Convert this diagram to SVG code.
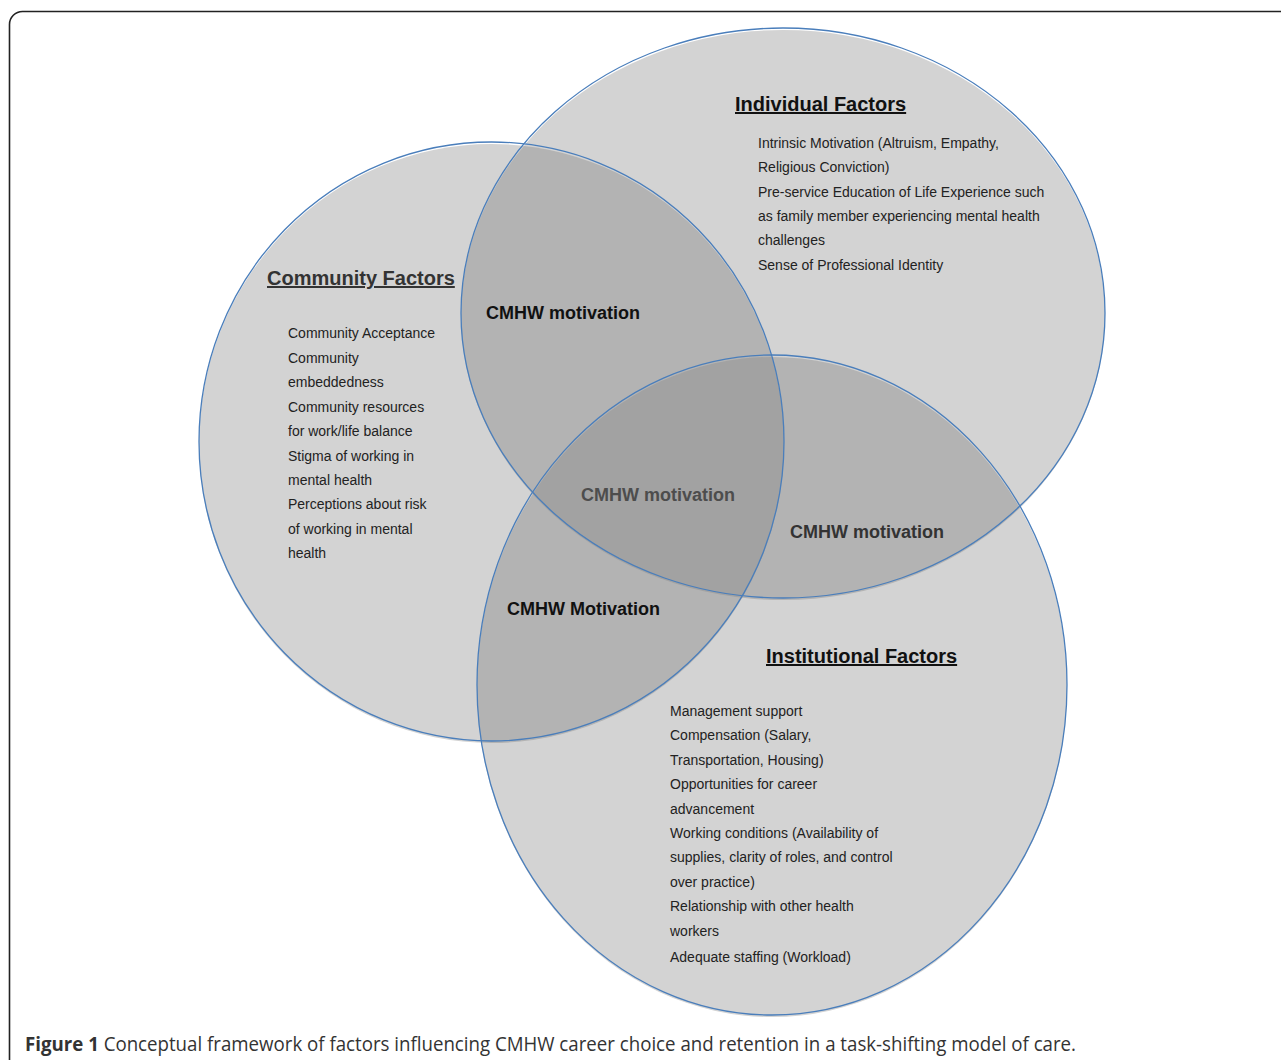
<svg xmlns="http://www.w3.org/2000/svg" width="1281" height="1060" viewBox="0 0 1281 1060">
<style>
.fill1{fill:#d3d3d3}
.fill2{fill:#b3b3b3}
.fill3{fill:#a2a2a2}
.outline{fill:none;stroke:#4a7ebb;stroke-width:1.3}
.title{font-family:"Liberation Sans",Arial,sans-serif;font-weight:bold;font-size:20px;text-decoration:underline}
.body{font-family:"Liberation Sans",Arial,sans-serif;font-size:14px;fill:#222}
.mot{font-family:"Liberation Sans",Arial,sans-serif;font-weight:bold;font-size:18px}
.cap{font-family:"Open Sans","Noto Sans",sans-serif;font-size:19.5px;fill:#333}
</style>
<defs>
<clipPath id="cInd"><ellipse cx="783" cy="315" rx="322" ry="285"/></clipPath>
<clipPath id="cCom"><ellipse cx="491.5" cy="443.5" rx="292.5" ry="299.5"/></clipPath>
<clipPath id="cIns"><ellipse cx="772" cy="687" rx="295" ry="330"/></clipPath>
</defs>
<rect x="9.5" y="11.5" width="1320" height="1100" rx="13" fill="#fff" stroke="#222" stroke-width="1.6"/>
<g id="fills">
<ellipse class="fill1" cx="783" cy="315" rx="322" ry="285"/>
<ellipse class="fill1" cx="491.5" cy="443.5" rx="292.5" ry="299.5"/>
<ellipse class="fill1" cx="772" cy="687" rx="295" ry="330"/>
<ellipse class="fill2" cx="491.5" cy="443.5" rx="292.5" ry="299.5" clip-path="url(#cInd)"/>
<ellipse class="fill2" cx="772" cy="687" rx="295" ry="330" clip-path="url(#cInd)"/>
<ellipse class="fill2" cx="772" cy="687" rx="295" ry="330" clip-path="url(#cCom)"/>
<g clip-path="url(#cInd)"><ellipse class="fill3" cx="772" cy="687" rx="295" ry="330" clip-path="url(#cCom)"/></g>
</g>
<g id="individual">
<ellipse class="outline" cx="783" cy="313" rx="322" ry="285"/>
<text class="title" x="735" y="111" fill="#111">Individual Factors</text>
<text class="body" x="758" y="148">Intrinsic Motivation (Altruism, Empathy,</text>
<text class="body" x="758" y="172">Religious Conviction)</text>
<text class="body" x="758" y="197">Pre-service Education of Life Experience such</text>
<text class="body" x="758" y="221">as family member experiencing mental health</text>
<text class="body" x="758" y="245">challenges</text>
<text class="body" x="758" y="270">Sense of Professional Identity</text>
</g>
<g id="community">
<ellipse class="outline" cx="491.5" cy="441.5" rx="292.5" ry="299.5"/>
<text class="title" x="267" y="285" fill="#333">Community Factors</text>
<text class="body" x="288" y="338">Community Acceptance</text>
<text class="body" x="288" y="363">Community</text>
<text class="body" x="288" y="387">embeddedness</text>
<text class="body" x="288" y="412">Community resources</text>
<text class="body" x="288" y="436">for work/life balance</text>
<text class="body" x="288" y="461">Stigma of working in</text>
<text class="body" x="288" y="485">mental health</text>
<text class="body" x="288" y="509">Perceptions about risk</text>
<text class="body" x="288" y="534">of working in mental</text>
<text class="body" x="288" y="558">health</text>
</g>
<g id="institutional">
<ellipse class="outline" cx="772" cy="685" rx="295" ry="330"/>
<text class="title" x="766" y="663" fill="#111">Institutional Factors</text>
<text class="body" x="670" y="716">Management support</text>
<text class="body" x="670" y="740">Compensation (Salary,</text>
<text class="body" x="670" y="765">Transportation, Housing)</text>
<text class="body" x="670" y="789">Opportunities for career</text>
<text class="body" x="670" y="814">advancement</text>
<text class="body" x="670" y="838">Working conditions (Availability of</text>
<text class="body" x="670" y="862">supplies, clarity of roles, and control</text>
<text class="body" x="670" y="887">over practice)</text>
<text class="body" x="670" y="911">Relationship with other health</text>
<text class="body" x="670" y="936">workers</text>
<text class="body" x="670" y="962">Adequate staffing (Workload)</text>
</g>
<g id="overlaps">
<text class="mot" x="486" y="319" fill="#111">CMHW motivation</text>
<text class="mot" x="581" y="501" fill="#4d4d4d">CMHW motivation</text>
<text class="mot" x="790" y="538" fill="#333">CMHW motivation</text>
<text class="mot" x="507" y="615" fill="#111">CMHW Motivation</text>
</g>
<g id="connectors"/>
<text class="cap" x="25" y="1051" textLength="1051" lengthAdjust="spacingAndGlyphs"><tspan font-weight="bold">Figure 1</tspan> Conceptual framework of factors influencing CMHW career choice and retention in a task-shifting model of care.</text>
</svg>
